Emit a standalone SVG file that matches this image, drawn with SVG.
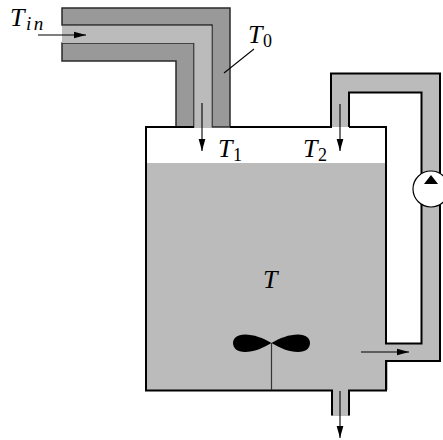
<svg xmlns="http://www.w3.org/2000/svg" width="443" height="440" viewBox="0 0 443 440">
<style>
.o{fill:none;stroke:#000;stroke-width:2;stroke-linejoin:miter}
.j{fill:#999;stroke:#2a2a2a;stroke-width:1.5}
.a{fill:none;stroke:#000;stroke-width:1.1}
.l{fill:none;stroke:#333;stroke-width:1.2}
text{font-family:"Liberation Serif","Times New Roman",serif;fill:#000}
.m{font-style:italic;font-size:26px}
.s{font-size:18px}
.si{font-style:italic;font-size:19px;letter-spacing:2.5px}
</style>
<defs>
<marker id="ah" markerWidth="13" markerHeight="8" refX="12.5" refY="4" orient="auto" markerUnits="userSpaceOnUse"><path d="M0,0.5 L12.5,4 L0,7.500 Z" fill="#000"/></marker>
</defs>
<rect width="443" height="440" fill="#fff"/>
<g id="jacket">
<path class="j" d="M62,8 H230 V127 H212 V25 H62 Z"/>
<path class="j" d="M62,43 H194 V127 H176 V61 H62 Z"/>
</g>
<g id="feed-pipe">
<path d="M62,26 H211.500 V128 H194.500 V43 H62 Z" fill="#bbb"/>
</g>
<g id="tank">
<rect x="147" y="128" width="238.500" height="35" fill="#fff"/>
<path d="M331,74 H439 V361 H386 V343 H421 V92 H349 V127 H331 Z" fill="#bbb"/>
<rect x="147" y="163" width="239" height="227" fill="#bbb"/>
<rect x="386" y="361" width="2" height="29" fill="#bbb"/>
<rect x="332" y="390" width="17" height="26" fill="#bbb"/>
<path class="o" d="M176,127 H146 V390.500 H332 V415.500 M349,415.500 V390.500 H386 V361 H440 V73.500 H331 V127 H230 M176,127 H194 M349,127 V92.500 H421.500 V343.500 H386 V127 H349"/>
</g>
<g id="pump">
<circle cx="431" cy="189" r="18" fill="#fff" stroke="#000" stroke-width="1.2"/>
<path d="M431,175 L424,184 H438 Z" fill="#000"/>
</g>
<g id="stirrer">
<path class="l" d="M271.500,343 V390"/>
<path d="M271.500,343 C263,338 254,334.500 245,334.500 C237,334.500 233,338.500 233,343 C233,348 237,352 245,352 C254,352 263,348 271.500,343 C280,338 289,334.500 298,334.500 C306,334.500 310,338.500 310,343 C310,348 306,352 298,352 C289,352 280,348 271.500,343 Z" fill="#000"/>
</g>
<g id="connectors">
<path class="a" d="M38,35 H86" marker-end="url(#ah)"/>
<path class="a" d="M202,103 V151" marker-end="url(#ah)"/>
<path class="a" d="M340,104 V151" marker-end="url(#ah)"/>
<path class="a" d="M361,352 H409" marker-end="url(#ah)"/>
<path class="a" d="M340,391 V438" marker-end="url(#ah)"/>
<path class="a" d="M224,73 L254,49"/>
</g>
<g id="labels">
<text class="m" x="10" y="26">T</text><text class="si" x="26" y="30">in</text>
<text class="m" x="248" y="43">T</text><text class="s" x="263" y="47">0</text>
<text class="m" x="218" y="157">T</text><text class="s" x="233" y="161">1</text>
<text class="m" x="303" y="157">T</text><text class="s" x="318" y="161">2</text>
<text class="m" x="263" y="288">T</text>
</g>
</svg>
